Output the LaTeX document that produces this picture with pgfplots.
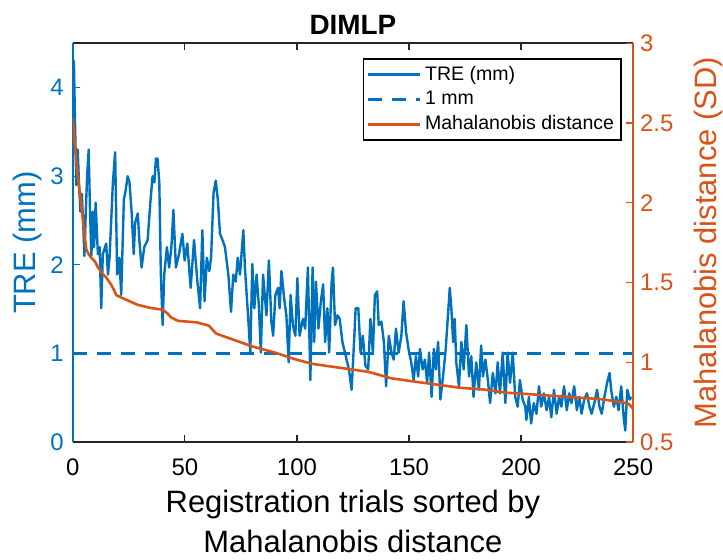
\documentclass[border=0pt]{standalone}
\usepackage{fontspec}
\setmainfont{Liberation Sans}
\usepackage{pgfplots}
\pgfplotsset{compat=1.18}
\definecolor{mblue}{HTML}{0072BD}
\definecolor{morange}{HTML}{D95319}

\begin{document}
\begin{tikzpicture}
\pgfplotsset{
  dimlp/.style={
    scale only axis, width=281pt, height=200pt,
    xmin=0, xmax=250,
    major tick length=3.5pt,
    ticklabel style={font=\fontsize{12}{13}\selectfont},
    /pgf/number format/assume math mode=true,
  }
}
\begin{axis}[dimlp, name=main,
  ymin=0, ymax=4.5,
  xtick={0,50,...,250}, ytick={0,1,2,3,4},
  tick align=inside,
  ytick pos=left, xtick pos=both,
  separate axis lines,
  x axis line style={black!85, line width=0.8pt},
  y axis line style={mblue, line width=0.8pt},
  xtick style={black!85, line width=0.6pt},
  ytick style={mblue, line width=0.6pt},
  yticklabel style={text=mblue},
  xticklabel shift=5pt, yticklabel shift=1pt,
  ylabel={TRE (mm)},
  ylabel style={text=mblue, font=\fontsize{15.5}{20}\selectfont},
  ylabel shift=-2.7pt,
  xlabel={Registration trials sorted by\\Mahalanobis distance},
  xlabel style={align=center, font=\fontsize{15.5}{20.5}\selectfont},
  title={DIMLP}, title style={font=\fontsize{14}{16}\selectfont\bfseries, yshift=-5pt},
]
% 1 mm threshold
\addplot[mblue, line width=1.2pt, dash pattern=on 7pt off 5pt] coordinates {(0,1) (250,1)};
% TRE per trial
\addplot[mblue, line width=1.2pt, line join=round] coordinates {
(0,3.7) (0.5,4.3) (1,3.6) (1.6,2.9) (2.2,3.3) (2.8,2.9) (3.4,2.6) (4,2.8) (4.6,2.5) (5.2,2.1)
(5.8,2.6) (6.4,3.0) (7.1,3.3) (7.7,2.6) (8.3,2.1) (8.9,2.6) (9.5,2.2) (10.2,2.70) (11.2,2.12) (12.0,2.2)
(12.7,1.51) (13.4,2.12) (14.9,2.24) (15.7,1.89) (16.4,2.08) (17.9,2.93) (18.9,3.27) (19.8,1.89) (20.8,2.08) (21.6,1.66)
(22.8,2.74) (23.4,2.81) (24.5,3.0) (25.3,2.93) (26.3,2.58) (27.2,2.12) (27.8,2.47) (29.0,2.58) (29.7,2.28) (30.7,1.97)
(31.9,2.2) (33.4,2.28) (34.6,2.70) (35.6,3.0) (36.4,2.93) (37.1,3.2) (37.8,3.2) (38.6,2.93) (39.3,1.89) (40.1,1.32)
(40.8,1.89) (42.0,2.2) (43.0,1.97) (44.0,2.2) (44.9,2.62) (46.0,1.97) (47.4,2.12) (48.9,2.35) (49.9,2.05) (51.1,2.24)
(52.6,1.74) (54.1,2.28) (55.6,1.81) (56.8,1.51) (57.8,2.39) (58.8,1.59) (59.8,2.08) (60.9,1.93) (61.7,2.08) (62.8,2.81)
(63.8,2.95) (64.7,2.74) (65.7,2.35) (66.8,2.28) (67.9,2.2) (69.4,1.89) (70.6,1.47) (71.6,1.89) (72.7,1.81) (73.6,2.08)
(74.6,1.89) (76.1,2.39) (76.8,1.97) (78.3,1.39) (79.2,1.01) (80.1,2.01) (81.0,1.51) (82.0,1.89) (83.0,1.55) (83.9,1.01)
(84.9,1.89) (86.4,1.43) (87.5,2.05) (88.6,1.36) (89.4,1.2) (90.4,1.66) (91.6,1.74) (92.3,1.51) (93.1,1.93) (94.3,1.62)
(95.3,1.43) (96.3,0.9) (97.2,1.66) (98.2,1.32) (99.3,1.2) (100.2,1.85) (101.2,1.2) (102.7,1.39) (103.7,1.28) (104.9,1.97)
(106.0,0.7) (107.0,1.97) (107.7,1.13) (108.5,1.81) (109.6,1.28) (110.7,1.59) (111.7,1.78) (112.6,1.13) (113.6,1.51) (114.4,1.01)
(115.5,1.81) (116.1,1.97) (117.0,1.32) (118.1,1.43) (119.1,1.39) (120.3,1.13) (121.8,0.97) (123.2,0.82) (124.4,0.59) (125.5,1.13)
(126.2,1.51) (127.4,1.51) (128.4,1.01) (129.4,1.2) (130.6,0.86) (131.8,0.82) (132.8,1.39) (133.9,1.01) (134.8,1.66) (135.8,1.70)
(136.5,1.32) (137.7,1.36) (138.8,1.13) (139.8,0.63) (141.0,1.2) (142.2,1.01) (143.2,0.93) (144.2,1.28) (145.4,1.01) (146.6,1.2)
(147.6,1.59) (148.7,1.24) (149.8,1.05) (151.0,0.9) (152.1,0.7) (153.1,0.97) (154.1,0.74) (154.9,1.05) (156.1,0.82) (157.1,0.93)
(158.1,0.67) (159.0,1.01) (160.1,0.51) (161.1,1.05) (162.0,0.82) (163.0,1.13) (164.0,0.48) (165.2,0.74) (166.4,1.05) (167.4,1.43)
(168.2,1.74) (168.9,1.51) (169.7,1.13) (170.4,1.39) (171.1,0.9) (172.3,0.63) (173.4,1.13) (174.4,0.82) (175.6,1.32) (176.8,0.74)
(177.8,0.97) (178.8,0.51) (180.0,0.9) (181.2,0.59) (182.2,1.09) (183.0,0.74) (184.1,0.93) (185.2,0.7) (186.2,0.44) (187.4,0.78)
(188.6,0.55) (189.6,0.9) (190.6,0.55) (191.8,1.01) (193.0,0.44) (194.0,1.01) (195.1,0.67) (196.3,1.01) (197.4,0.51) (198.5,0.4)
(199.5,0.7) (200.7,0.48) (201.9,0.4) (202.4,0.25) (203.5,0.51) (204.5,0.21) (205.7,0.44) (206.9,0.32) (208.0,0.63) (209.0,0.4)
(210.2,0.55) (211.4,0.36) (212.5,0.51) (213.5,0.28) (214.7,0.59) (215.9,0.32) (217.0,0.51) (218.0,0.4) (219.2,0.63) (220.4,0.36)
(221.5,0.55) (222.5,0.44) (223.7,0.63) (224.9,0.36) (226.0,0.51) (227.0,0.32) (228.2,0.48) (229.4,0.55) (230.5,0.4) (231.5,0.32)
(232.7,0.44) (233.9,0.59) (235.0,0.4) (236.0,0.32) (237.2,0.51) (238.4,0.67) (239.5,0.78) (240.2,0.59) (241.4,0.4) (242.5,0.51)
(243.5,0.36) (244.7,0.63) (245.9,0.25) (246.5,0.13) (247.4,0.59) (248.5,0.48) (249.2,0.51)
};
\end{axis}
\begin{axis}[dimlp,
  ymin=0.5, ymax=3,
  axis x line=none,
  axis y line=right,
  tick align=inside,
  y axis line style={-, morange, line width=0.8pt},
  ytick={0.5,1,1.5,2,2.5,3},
  ytick style={morange, line width=0.6pt},
  yticklabel style={text=morange},
  ylabel={Mahalanobis distance (SD)},
  ylabel style={text=morange, font=\fontsize{15.5}{20}\selectfont, inner sep=0pt},
  ylabel shift=6.9pt,
  legend style={at={(0.98,0.962)}, anchor=north east, draw=black, line width=0.8pt,
    fill=white, font=\fontsize{9.8}{12}\selectfont, inner sep=1.5pt},
  legend cell align=left,
  legend image code/.code={\draw[#1, line width=1.4pt] (0pt,0pt) -- (26pt,0pt);},
]
\addlegendimage{mblue}
\addlegendentry{TRE (mm)}
\addlegendimage{mblue, dash pattern=on 7pt off 5pt}
\addlegendentry{1 mm}
\addplot[morange, line width=1.3pt, line join=round] coordinates {
(0,2.53) (1,2.35) (2,2.20) (3,2.08) (4,1.96) (5,1.83) (6,1.71) (7,1.68) (8,1.66) (10,1.63)
(11,1.60) (13,1.56) (15,1.53) (17,1.49) (18.5,1.45) (19.5,1.42) (22.6,1.40) (29,1.36) (35,1.34) (40,1.33)
(42,1.31) (44,1.28) (47,1.26) (55.5,1.25) (60.7,1.23) (64,1.18) (70,1.15) (80,1.10) (90.5,1.06) (99,1.02)
(107,0.99) (117,0.97) (132,0.94) (142,0.90) (152,0.88) (162.5,0.86) (173,0.84) (183,0.83) (193,0.81) (204,0.80)
(214,0.79) (224,0.78) (235,0.77) (245,0.75) (248,0.74) (250,0.71)
};
\addlegendentry{Mahalanobis distance}
\end{axis}
% white margins as in the reference figure
\path ([xshift=-36.5pt, yshift=21.7pt]main.north west) rectangle ([xshift=44.5pt, yshift=-56.5pt]main.south east);
\end{tikzpicture}
\end{document}
